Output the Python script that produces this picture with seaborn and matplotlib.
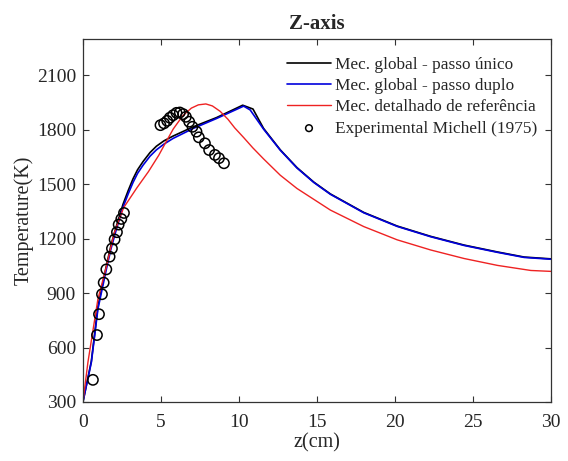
import numpy as np
import pandas as pd
import matplotlib
matplotlib.use("Agg")
import matplotlib.pyplot as plt
import seaborn as sns

# ---- data ----
z_unico = [0.0, 0.54, 0.96, 1.5, 1.8, 2.14, 2.57, 2.9, 3.21, 3.5, 3.85, 4.3, 4.71, 5.2, 5.78,
           7.07, 8.57, 10.24, 10.9, 11.58, 12.65, 13.72, 14.8, 15.86, 18.0, 20.14, 22.29,
           24.43, 26.57, 28.28, 30.0]
T_unico = [300, 525, 825, 1050, 1165, 1268, 1390, 1465, 1530, 1580, 1625, 1675, 1710, 1740,
           1766, 1817, 1868, 1936, 1915, 1808, 1690, 1592, 1512, 1447, 1345, 1270, 1213,
           1165, 1127, 1099, 1089]

z_duplo = [0.0, 0.54, 0.96, 1.5, 1.8, 2.14, 2.57, 2.9, 3.21, 3.5, 3.85, 4.3, 4.71, 5.2, 5.78,
           7.07, 8.57, 10.3, 10.72, 11.58, 12.65, 13.72, 14.8, 15.86, 18.0, 20.14, 22.29,
           24.43, 26.57, 28.28, 30.0]
T_duplo = [300, 519, 812, 1031, 1145, 1251, 1374, 1447, 1510, 1560, 1605, 1655, 1690, 1722,
           1753, 1808, 1863, 1931, 1910, 1804, 1688, 1590, 1510, 1445, 1343, 1268, 1211,
           1163, 1125, 1097, 1087]

z_ref = [0.0, 0.32, 0.96, 1.5, 2.0, 2.6, 3.47, 4.2, 4.86, 5.4, 5.79, 6.4, 6.95, 7.4, 7.88,
         8.3, 8.8, 9.3, 9.73, 10.3, 10.89, 11.58, 12.65, 13.72, 15.86, 18.0, 20.14, 22.29,
         24.43, 26.57, 28.71, 30.0]
T_ref = [300, 519, 867, 1045, 1230, 1370, 1482, 1570, 1660, 1745, 1805, 1878, 1920, 1938,
         1943, 1932, 1902, 1858, 1811, 1758, 1701, 1640, 1550, 1477, 1358, 1267, 1194, 1138,
         1091, 1053, 1025, 1020]

z_exp = [0.64, 0.90, 1.03, 1.22, 1.33, 1.50, 1.71, 1.86, 2.03, 2.18, 2.29, 2.46, 2.63,
         4.97, 5.20, 5.40, 5.57, 5.78, 6.00, 6.21, 6.42, 6.60, 6.81, 7.02, 7.28, 7.43,
         7.82, 8.09, 8.46, 8.72, 9.04]
T_exp = [422, 669, 784, 894, 958, 1031, 1101, 1146, 1196, 1236, 1278, 1309, 1342,
         1826, 1836, 1850, 1867, 1881, 1894, 1896, 1887, 1872, 1845, 1817, 1790, 1759,
         1726, 1689, 1662, 1644, 1616]

labels = ["Mec. global - passo único", "Mec. global - passo duplo",
          "Mec. detalhado de referência", "Experimental Michell (1975)"]
x_ticks = [0, 5, 10, 15, 20, 25, 30]
y_ticks = [300, 600, 900, 1200, 1500, 1800, 2100]

# ---- style ----
sns.set_theme(style="white")
plt.rcParams["font.family"] = ["Liberation Serif", "DejaVu Serif"]
plt.rcParams["xtick.direction"] = "in"
plt.rcParams["ytick.direction"] = "in"

fig = plt.figure(figsize=(5.68, 4.61), dpi=100)
ax = fig.add_axes([0.146, 0.128, 0.824, 0.787])

sns.lineplot(x=z_unico, y=T_unico, color="black", lw=1.2, sort=False,
             estimator=None, ax=ax, label=labels[0])
sns.lineplot(x=z_duplo, y=T_duplo, color="#0000dd", lw=1.2, sort=False,
             estimator=None, ax=ax, label=labels[1])
sns.lineplot(x=z_ref, y=T_ref, color="#ee2222", lw=1.0, sort=False,
             estimator=None, ax=ax, label=labels[2])
sns.scatterplot(x=z_exp, y=T_exp, marker="o", s=55, facecolors="none",
                edgecolor="black", linewidth=1.1, ax=ax, label=labels[3], zorder=5)

ax.set_xlim(0, 30)
ax.set_ylim(300, 2300)
ax.set_xticks(x_ticks)
ax.set_yticks(y_ticks)
ax.tick_params(axis="both", which="both", labelsize=14, length=4, width=0.8,
               color="#333333", top=True, right=True, left=True, bottom=True)
ax.tick_params(axis="x", pad=9)
ax.tick_params(axis="y", pad=5)
for sp in ax.spines.values():
    sp.set_color("#333333")
    sp.set_linewidth(0.9)

ax.set_xlabel("z(cm)", fontsize=14.5, labelpad=1)
ax.set_ylabel("Temperature(K)", fontsize=14.5, labelpad=2)
ax.set_title("Z-axis", fontsize=15, fontweight="bold", pad=7)

leg = ax.legend(loc="upper right", bbox_to_anchor=(0.985, 0.97), frameon=False,
                fontsize=12.4, handlelength=2.6, handletextpad=0.2, labelspacing=0.3,
                borderaxespad=0.0, markerscale=0.65)

fig.savefig("out.png", dpi=100)
